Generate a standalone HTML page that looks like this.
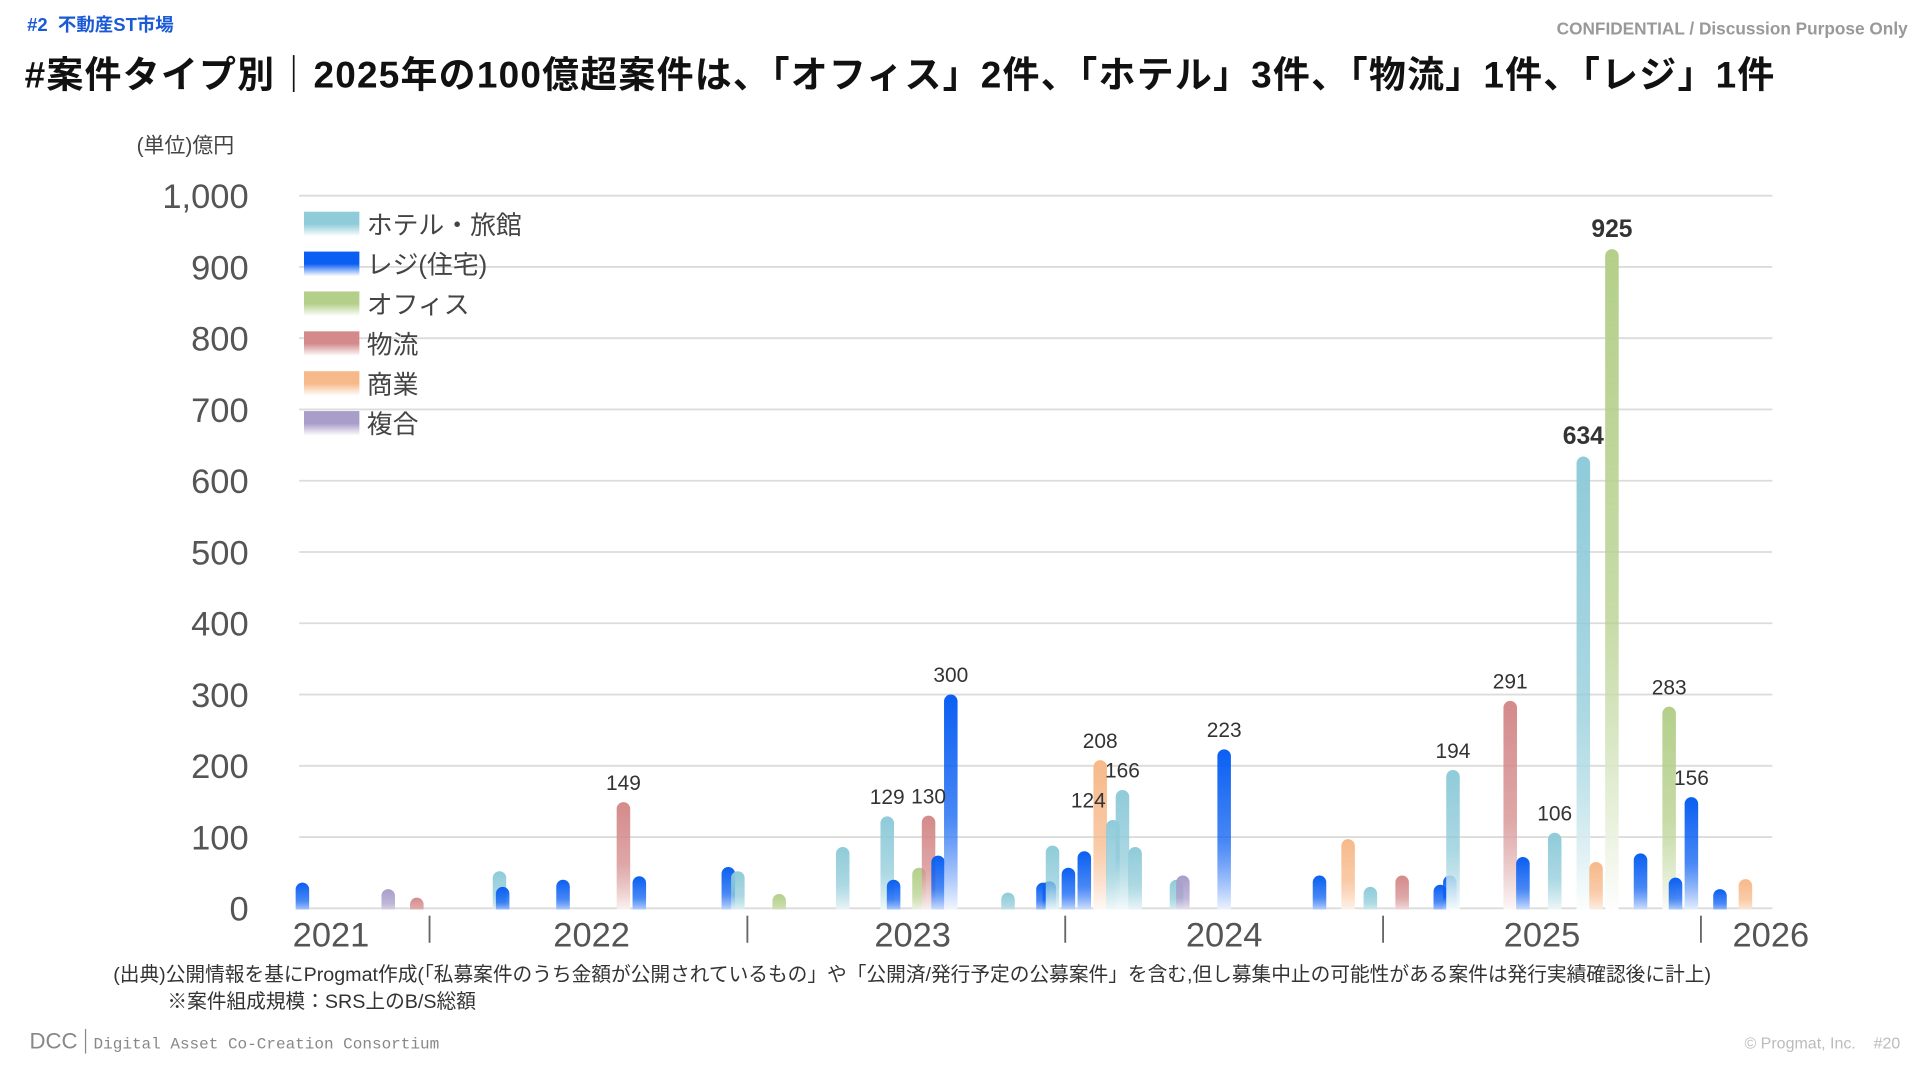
<!DOCTYPE html>
<html><head><meta charset="utf-8">
<style>
html,body{margin:0;padding:0;background:#fff;}
body{width:1920px;height:1080px;overflow:hidden;}
#stage{width:1560px;height:878px;transform:scale(1.230769);transform-origin:0 0;position:relative;font-family:"Liberation Sans","Noto Sans CJK JP",sans-serif;}
.abs{position:absolute;white-space:nowrap;}
</style></head>
<body>
<div id="stage">
  <div class="abs" style="left:22px;top:9px;font-size:15px;font-weight:bold;color:#1a5ad6;">#2&nbsp; 不動産ST市場</div>
  <div class="abs" style="right:10px;top:15px;font-size:14px;font-weight:bold;color:#999;">CONFIDENTIAL / Discussion Purpose Only</div>
  <div class="abs" style="left:20px;top:36px;font-size:30px;font-weight:bold;color:#111;letter-spacing:1px;">#案件タイプ別｜2025年の100億超案件は、「オフィス」2件、「ホテル」3件、「物流」1件、「レジ」1件</div>
  <svg class="abs" style="left:0;top:0" width="1560" height="878" id="chart">
    <defs id="defs"></defs>
    <g id="grid"></g><g id="bars"></g><g id="labels"></g><g id="axis"></g><g id="legend"></g>
  </svg>
  <div class="abs" style="left:92px;top:778px;font-size:16px;color:#333;">(出典)公開情報を基にProgmat作成(「私募案件のうち金額が公開されているもの」や「公開済/発行予定の公募案件」を含む,但し募集中止の可能性がある案件は発行実績確認後に計上)</div>
  <div class="abs" style="left:136px;top:800px;font-size:16px;color:#333;">※案件組成規模：SRS上のB/S総額</div>
  <div class="abs" style="left:24px;top:836px;font-size:18px;color:#888;">DCC<span style="border-left:1.5px solid #888;margin:0 6px;"></span><span style="font-family:'Liberation Mono',monospace;font-size:13px;">Digital Asset Co-Creation Consortium</span></div>
  <div class="abs" style="right:16px;top:840px;font-size:13px;color:#bbb;">© Progmat, Inc.&nbsp;&nbsp;&nbsp; #20</div>
</div>
<script>
const types = ['hotel','resi','office','logi','comm','mixed'];
const typeNames = ['ホテル・旅館','レジ(住宅)','オフィス','物流','商業','複合'];
const typeColors = ['#8fcbd9','#0a5ff2','#b4cf8a','#d48a8a','#f7b98a','#a99dc9'];
const dealDates = [2021.60,2021.87,2021.96,2022.22,2022.23,2022.42,2022.61,2022.66,2022.94,2022.97,2023.10,2023.30,2023.44,2023.46,2023.54,2023.57,2023.60,2023.64,2023.82,2023.93,2023.95,2023.96,2024.01,2024.06,2024.11,2024.15,2024.18,2024.22,2024.35,2024.37,2024.50,2024.80,2024.89,2024.96,2025.06,2025.18,2025.21,2025.22,2025.40,2025.44,2025.54,2025.63,2025.67,2025.72,2025.81,2025.90,2025.92,2025.97,2026.06,2026.14];
const dealTypes = ['resi','mixed','logi','hotel','resi','resi','logi','resi','resi','hotel','office','hotel','hotel','resi','office','logi','resi','resi','hotel','resi','resi','hotel','resi','resi','comm','hotel','hotel','hotel','hotel','mixed','resi','resi','comm','hotel','logi','resi','resi','hotel','logi','resi','hotel','hotel','comm','office','resi','office','resi','resi','resi','comm'];
const dealValues = [36,27,15,52,30,40,149,45,58,52,20,86,129,40,57,130,74,300,22,36,38,88,57,80,208,124,166,86,40,46,223,46,97,30,46,33,46,194,291,72,106,634,65,925,77,283,43,156,27,41];
const boldLabels = [634,925];
const yTicks = [0,100,200,300,400,500,600,700,800,900,1000];
const yTickLabels = ['0','100','200','300','400','500','600','700','800','900','1,000'];
const yearLabels = ['2021','2022','2023','2024','2025','2026'];
const yearLabelDates = [2021.69,2022.51,2023.52,2024.50,2025.50,2026.22];
const separatorDates = [2022,2023,2024,2025,2026];

const NS='http://www.w3.org/2000/svg';
const xScale = t => 349 + (t-2022)*258.25;
const yScale = v => 738 - v*0.579;
function mk(tag, attrs, parent){const e=document.createElementNS(NS,tag);for(const k in attrs)e.setAttribute(k,attrs[k]);parent.appendChild(e);return e;}
const defs=document.getElementById('defs'),grid=document.getElementById('grid'),bars=document.getElementById('bars'),labels=document.getElementById('labels'),axis=document.getElementById('axis'),legend=document.getElementById('legend');
types.forEach((t,i)=>{
  const g=mk('linearGradient',{id:'g-'+t,x1:0,y1:0,x2:0,y2:1},defs);
  mk('stop',{offset:'0','stop-color':typeColors[i]},g);
  mk('stop',{offset:'0.55','stop-color':typeColors[i],'stop-opacity':'0.75'},g);
  mk('stop',{offset:'1','stop-color':'#ffffff'},g);
  const lg=mk('linearGradient',{id:'lg-'+t,x1:0,y1:0,x2:0,y2:1},defs);
  mk('stop',{offset:'0','stop-color':typeColors[i]},lg);
  mk('stop',{offset:'0.5','stop-color':typeColors[i]},lg);
  mk('stop',{offset:'1','stop-color':'#ffffff'},lg);
});
yTicks.forEach((v,i)=>{
  const l=mk('line',{x1:243,x2:1440,y1:yScale(v),y2:yScale(v),stroke:'#dcdcdc','stroke-width':1.5},grid);
  
  
  const t=mk('text',{x:202,y:yScale(v)+10,'text-anchor':'end','font-size':28,fill:'#555'},axis);
  t.textContent=yTickLabels[i];
  
  
});
const ut=mk('text',{x:111,y:124,'font-size':17,fill:'#444'},axis);
ut.textContent='(単位)億円';


yearLabels.forEach((y,i)=>{
  const t=mk('text',{x:xScale(yearLabelDates[i]),y:769,'text-anchor':'middle','font-size':28,fill:'#555'},axis);
  t.textContent=y;
  
  
});
separatorDates.forEach(d=>{
  const l=mk('line',{x1:xScale(d),x2:xScale(d),y1:744,y2:766,stroke:'#666','stroke-width':1.5},axis);
  
  
});
const W=11;
dealValues.forEach((v,i)=>{
  const x=xScale(dealDates[i]),y=yScale(v),h=738-y;
  const r=mk('rect',{x:x-W/2,y:y,width:W,height:h+W/2,rx:W/2,fill:'url(#g-'+dealTypes[i]+')'},bars);
  
  
  if(v>=100){
    const b=boldLabels.includes(v);
    const dx=(v===124)?-20:0;
    const t=mk('text',{x:x+dx,y:y-10,'text-anchor':'middle','font-size':b?20:17,'font-weight':b?'bold':'normal',fill:'#333'},labels);
    t.textContent=String(v);
    
    
  }
});
mk('rect',{x:230,y:739,width:1215,height:8,fill:'#fff'},bars);
types.forEach((t,i)=>{
  const cy=182+i*32.4;
  const s=mk('rect',{x:247,y:cy-10,width:45,height:20,fill:'url(#lg-'+t+')'},legend);
  
  
  const tx=mk('text',{x:298,y:cy+8,'font-size':21,fill:'#444'},legend);
  tx.textContent=typeNames[i];
  
  
});
</script>
</body></html>
